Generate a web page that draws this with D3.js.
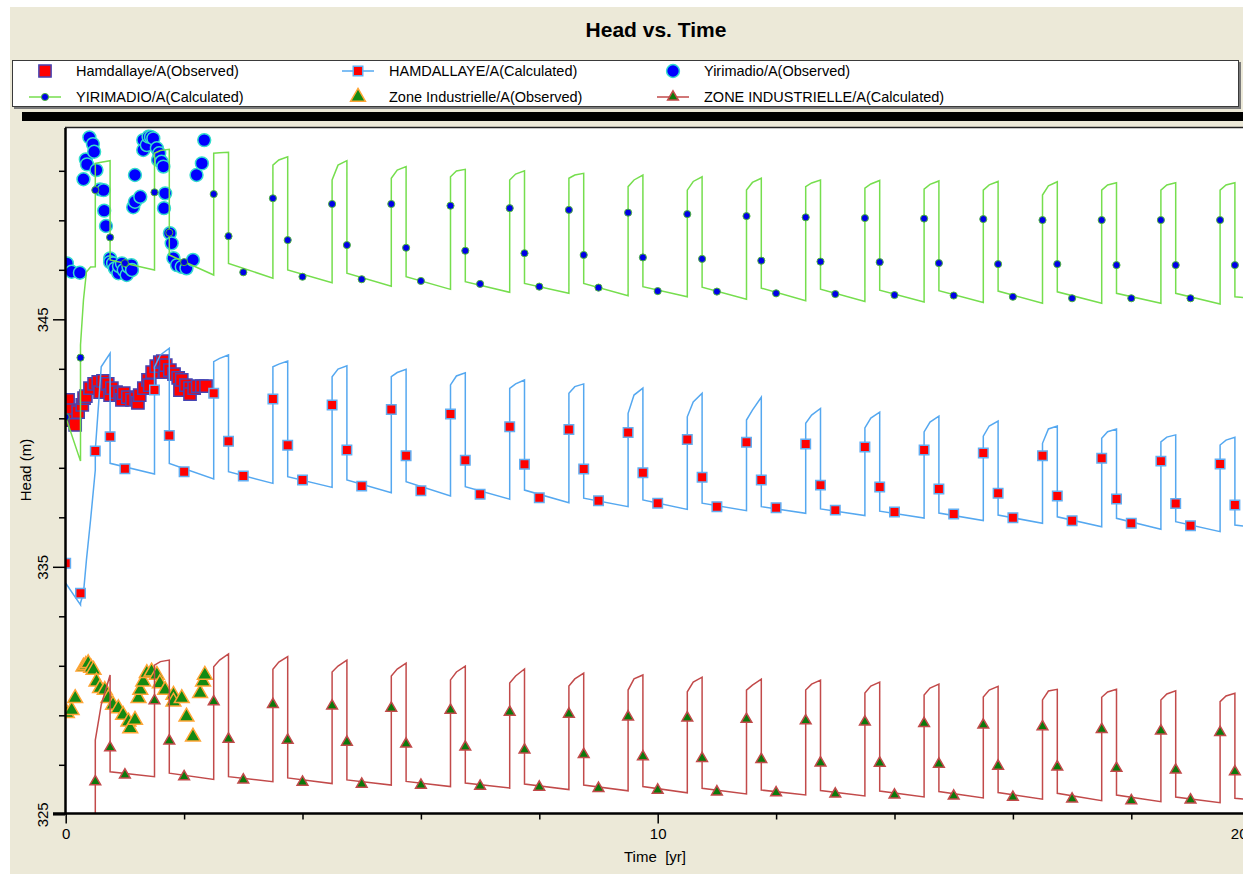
<!DOCTYPE html>
<html>
<head>
<meta charset="utf-8">
<script src="https://cdn.jsdelivr.net/npm/d3@7"></script>
<style>
body { margin:0; background:#fff; }
text { font-family:"Liberation Sans", Arial, sans-serif; }
</style>
</head>
<body>
<div id="chart"></div>
<script>
// ---- data (time in years, head in m) ----
var calcTime = [0,0.25,0.25,0.3,0.35,0.42,0.5,0.5,0.6,0.75,0.75,
  1.5,1.5,1.6,1.75,1.75, 2.5,2.5,2.6,2.75,2.75, 3.5,3.5,3.6,3.75,3.75,
  4.5,4.5,4.6,4.75,4.75, 5.5,5.5,5.6,5.75,5.75, 6.5,6.5,6.6,6.75,6.75,
  7.5,7.5,7.6,7.75,7.75, 8.5,8.5,8.6,8.75,8.75, 9.5,9.5,9.6,9.75,9.75,
  10.5,10.5,10.6,10.75,10.75, 11.5,11.5,11.6,11.75,11.75, 12.5,12.5,12.6,12.75,12.75,
  13.5,13.5,13.6,13.75,13.75, 14.5,14.5,14.6,14.75,14.75, 15.5,15.5,15.6,15.75,15.75,
  16.5,16.5,16.6,16.75,16.75, 17.5,17.5,17.6,17.75,17.75, 18.5,18.5,18.6,18.75,18.75,
  19.5,19.5,19.6,19.75,19.75, 19.9]

var hamCalc = [334.34,333.46,333.54,333.94,335.27,336.89,338.91,339.72,343.08,343.63,339.18,
  338.75,343.08,343.56,343.83,339.18, 338.55,343.29,343.42,343.56,338.84, 338.37,343.08,343.19,343.31,338.64,
  338.21,342.68,342.99,343.12,338.51, 337.99,342.68,342.85,342.98,338.44, 337.86,342.35,342.71,342.84,338.24,
  337.73,342.21,342.39,342.55,338.10, 337.59,342.01,342.28,342.39,337.77, 337.43,341.20,341.94,342.22,337.70,
  337.32,341.06,341.66,342.01,337.57, 337.27,340.93,341.33,341.85,337.43, 337.16,340.80,341.13,341.40,337.34,
  337.07,340.61,341.01,341.25,337.25, 336.97,340.45,340.85,341.09,337.17, 336.87,340.28,340.69,340.89,337.09,
  336.76,339.99,340.57,340.69,337.02, 336.62,340.19,340.46,340.57,336.96, 336.52,340.05,340.24,340.33,336.82,
  336.42,339.92,340.12,340.23,336.69, 336.65]

var yirCalc = [341.05,339.27,343.96,345.78,346.91,347.11,347.12,351.30,351.35,351.41,347.40,
  346.99,351.71,351.82,351.87,347.60, 346.79,351.71,351.73,351.75,347.26, 346.66,351.23,351.44,351.57,346.99,
  346.48,350.63,351.23,351.41,346.86, 346.34,350.70,351.03,351.17,346.72, 346.21,350.76,350.99,351.06,346.52,
  346.09,350.63,350.87,351.00,346.45, 346.05,350.70,350.83,350.90,346.45, 345.95,350.36,350.63,350.83,346.32,
  345.91,350.22,350.57,350.76,346.30, 345.81,350.22,350.53,350.70,346.26, 345.75,350.36,350.51,350.63,346.22,
  345.72,350.30,350.47,350.61,346.18, 345.70,350.26,350.45,350.59,346.16, 345.68,350.22,350.43,350.57,346.14,
  345.65,350.02,350.39,350.56,346.11, 345.65,350.22,350.43,350.52,346.05, 345.65,350.22,350.43,350.52,346.05,
  345.62,350.22,350.43,350.52,345.91, 345.88]

var zoneCalc = [323.56,323.56,323.56,323.56,323.56,323.56,323.56,328.00,329.42,330.63,326.72,
  326.52,331.03,331.17,331.23,326.66, 326.41,330.96,331.23,331.48,326.52, 326.32,330.86,331.15,331.37,326.47,
  326.24,330.75,330.99,331.23,326.39, 326.18,330.59,330.87,331.11,326.33, 326.12,330.43,330.75,330.99,326.26,
  326.06,330.30,330.59,330.87,326.22, 326.00,330.18,330.47,330.70,326.18, 325.95,330.02,330.47,330.63,326.12,
  325.87,329.95,330.34,330.54,326.05, 325.82,330.02,330.22,330.46,325.98, 325.78,330.02,330.26,330.42,325.96,
  325.74,329.90,330.18,330.34,325.94, 325.70,329.82,330.10,330.26,325.92, 325.66,329.74,330.02,330.17,325.88,
  325.61,329.62,329.98,330.05,325.85, 325.55,329.73,329.94,330.05,325.78, 325.51,329.62,329.86,329.99,325.70,
  325.47,329.55,329.78,329.89,325.65, 325.62]

// output times where the calculated markers are drawn
var markTime = [0,0.25,0.5,0.75, 1,1.5,1.75, 2,2.5,2.75, 3,3.5,3.75, 4,4.5,4.75, 5,5.5,5.75,
  6,6.5,6.75, 7,7.5,7.75, 8,8.5,8.75, 9,9.5,9.75, 10,10.5,10.75, 11,11.5,11.75, 12,12.5,12.75,
  13,13.5,13.75, 14,14.5,14.75, 15,15.5,15.75, 16,16.5,16.75, 17,17.5,17.75, 18,18.5,18.75, 19,19.5,19.75]

var hamMark = [335.14,333.93,339.68,340.26, 338.96,342.14,340.31, 338.84,342.01,340.07, 338.67,341.78,339.91,
  338.51,341.54,339.72, 338.26,341.36,339.49, 338.07,341.17,339.31, 337.93,340.66,339.14, 337.79,340.55,338.95,
  337.67,340.43,338.80, 337.57,340.14,338.62, 337.43,340.03,338.51, 337.39,339.96,338.30, 337.29,339.84,338.22,
  337.21,339.72,338.14, 337.13,339.60,337.97, 336.98,339.49,337.86, 336.86,339.39,337.74, 336.76,339.27,337.56,
  336.66,339.15,337.50]

var yirMark = [341.05,343.45,350.22,348.31, 347.27,350.13,348.50, 347.31,350.06,348.36, 346.90,349.89,348.20,
  346.72,349.66,348.00, 346.62,349.66,347.89, 346.55,349.59,347.77, 346.43,349.49,347.67, 346.32,349.42,347.60,
  346.28,349.31,347.50, 346.14,349.25,347.44, 346.12,349.17,347.37, 346.05,349.12,347.33, 346.02,349.09,347.31,
  345.98,349.07,347.27, 345.96,349.05,347.23, 345.91,349.01,347.23, 345.85,349.01,347.19, 345.85,349.01,347.19,
  345.85,349.01,347.19]

var zoneMark = [323.6,323.6,326.32,327.69, 326.59,329.59,327.97, 326.52,329.55,328.04, 326.39,329.44,328.00,
  326.30,329.38,327.92, 326.22,329.29,327.84, 326.18,329.21,327.72, 326.14,329.13,327.60, 326.10,329.05,327.42,
  326.05,328.94,327.33, 325.98,328.90,327.26, 325.91,328.84,327.22, 325.87,328.78,327.08, 325.82,328.73,327.07,
  325.78,328.67,327.03, 325.74,328.61,326.95, 325.69,328.54,326.92, 325.62,328.43,326.86, 325.55,328.37,326.79,
  325.58,328.31,326.72]

// observed heads (first years only)
var hamObsTime = [0.04,0.07,0.11,0.16,0.21,0.28,0.31,0.34,0.41,0.48,0.55,0.58,0.63,0.71,0.75,0.78,0.85,0.92,0.95,0.98,
  1.05,1.12,1.19,1.22,1.25,1.32,1.39,1.42,1.46,1.53,1.59,1.64,1.68,1.69,1.76,1.83,1.90,1.93,1.96,2.03,
  2.10,2.10,2.17,2.23,2.30,2.37]
var hamObs = [341.74,341.33,340.93,340.73,341.25,341.54,341.82,341.90,342.22,342.39,342.47,342.06,342.51,342.39,341.94,342.22,342.06,341.98,341.74,342.02,
  341.86,341.74,341.82,341.62,341.94,342.22,342.55,342.34,342.87,343.11,343.27,343.31,342.87,343.15,342.95,342.79,342.63,342.14,342.55,342.34,
  342.22,341.98,342.22,342.30,342.30,342.30]

var yirObsTime = [0.02,0.10,0.24,0.30,0.34,0.36,0.40,0.46,0.48,0.52,0.58,0.64,0.65,0.68,0.75,0.75,0.80,0.83,0.89,0.90,
  0.95,0.98,1.03,1.06,1.11,1.12,1.14,1.17,1.17,1.26,1.31,1.31,1.37,1.40,1.44,1.48,1.54,1.56,1.58,1.62,
  1.65,1.66,1.68,1.76,1.79,1.82,1.88,1.96,2.04,2.15,2.21,2.30,2.34]
var yirObs = [347.26,346.92,346.88,350.66,351.46,351.26,352.35,352.08,351.77,351.03,350.25,350.22,349.39,348.77,347.46,347.31,347.26,347.06,346.86,347.15,
  347.26,346.99,346.79,347.12,347.19,346.99,349.53,350.83,349.75,349.95,352.24,351.84,352.04,352.38,352.37,352.31,351.91,351.44,351.71,351.37,
  351.17,349.49,350.09,348.48,348.07,347.47,347.19,347.12,347.06,347.40,350.83,351.30,352.24]

var zoneObsTime = [0.02,0.10,0.16,0.30,0.34,0.38,0.43,0.47,0.52,0.58,0.66,0.72,0.80,0.89,0.97,1.06,1.09,1.17,1.23,1.26,
  1.31,1.37,1.45,1.54,1.59,1.68,1.82,1.82,1.96,2.04,2.15,2.27,2.32,2.35]
var zoneObs = [329.08,329.21,329.69,330.96,331.03,331.10,330.91,330.83,330.36,330.09,330.02,329.69,329.42,329.28,329.01,328.74,328.47,328.81,329.69,330.02,
  330.36,330.70,330.76,330.63,330.29,330.02,329.82,329.55,329.69,328.94,328.13,329.89,330.36,330.63]

var yMajor = [325,335,345]
var yMinor = [327,329,331,333,337,339,341,343,347,349,351]
var xMajor = [0,10,20]
var xMinor = [2,4,6,8,12,14,16,18]

var legendNames = ["Hamdallaye/A(Observed)","HAMDALLAYE/A(Calculated)","Yirimadio/A(Observed)",
  "YIRIMADIO/A(Calculated)","Zone Industrielle/A(Observed)","ZONE INDUSTRIELLE/A(Calculated)"]

// ---- drawing ----
var W = 1243, H = 878
var svg = d3.select('#chart').append('svg').attr('width', W).attr('height', H)

svg.append('rect').attr('x', 10).attr('y', 7).attr('width', W - 10).attr('height', 867).attr('fill', '#ECE9D8')

svg.append('text').attr('x', 656).attr('y', 37).attr('text-anchor', 'middle')
  .attr('font-size', 21).attr('font-weight', 'bold').text('Head vs. Time')

var x = d3.scaleLinear().domain([0, 20]).range([65.7, 1249.7])
var y = d3.scaleLinear().domain([325, 352.75]).range([814.3, 127.5])

// marker + line styles
var st = {
  hamObs:  {type: d3.symbolSquare,   size: 150, fill: '#FF0000', stroke: '#4646B4', sw: 1.5},
  hamCalc: {type: d3.symbolSquare,   size: 90,  fill: '#FF0000', stroke: '#62AEF2', sw: 1.5, line: '#55A8F0'},
  yirObs:  {type: d3.symbolCircle,   size: 130, fill: '#0000FF', stroke: '#33DDCC', sw: 1.5},
  yirCalc: {type: d3.symbolCircle,   size: 40,  fill: '#0000E6', stroke: '#4FB83A', sw: 1, line: '#76DE4E'},
  zoneObs: {type: d3.symbolTriangle, size: 95,  fill: '#138A13', stroke: '#FFA535', sw: 1.5},
  zoneCalc:{type: d3.symbolTriangle, size: 50,  fill: '#0B7A0B', stroke: '#C24A4A', sw: 1.5, line: '#C24A4A'}
}

// legend
svg.append('rect').attr('x', 14).attr('y', 62).attr('width', 1227).attr('height', 47).attr('fill', '#7a7a7a')
svg.append('rect').attr('x', 12.5).attr('y', 60.5).attr('width', 1226).attr('height', 46)
  .attr('fill', '#fff').attr('stroke', '#3a3a3a').attr('stroke-width', 1)

var legKeys = ['hamObs','hamCalc','yirObs','yirCalc','zoneObs','zoneCalc']
var legCol = [45, 358, 673]
var legRow = [71, 97]
legKeys.forEach(function(k, i){
  var cx = legCol[i % 3], cy = legRow[Math.floor(i / 3)]
  var s = st[k]
  if (s.line) {
    svg.append('line').attr('x1', cx - 16).attr('x2', cx + 16).attr('y1', cy).attr('y2', cy)
      .attr('stroke', s.line).attr('stroke-width', 1.5)
  }
  svg.append('path').attr('transform', 'translate(' + cx + ',' + cy + ')')
    .attr('d', d3.symbol(s.type, s.size)).attr('fill', s.fill).attr('stroke', s.stroke).attr('stroke-width', s.sw)
  svg.append('text').attr('x', cx + 31).attr('y', cy + 5).attr('font-size', 14.5).text(legendNames[i])
})

// thick black bar under the legend
svg.append('rect').attr('x', 22).attr('y', 112).attr('width', W - 22).attr('height', 9).attr('fill', '#000')

// plot area
svg.append('rect').attr('x', 65).attr('y', 127).attr('width', W - 65).attr('height', 814 - 127).attr('fill', '#fff')
svg.append('line').attr('x1', 65).attr('x2', W).attr('y1', 127.5).attr('y2', 127.5).attr('stroke', '#222').attr('stroke-width', 1.5)

svg.append('defs').append('clipPath').attr('id', 'plotclip')
  .append('rect').attr('x', 66).attr('y', 127).attr('width', W - 66).attr('height', 814 - 127)
var plot = svg.append('g').attr('clip-path', 'url(#plotclip)')

var line = d3.line().x(function(d){ return x(d[0]) }).y(function(d){ return y(d[1]) })

function markers(ts, vs, s){
  plot.append('g').selectAll('path').data(d3.zip(ts, vs)).join('path')
    .attr('transform', function(d){ return 'translate(' + x(d[0]) + ',' + y(d[1]) + ')' })
    .attr('d', d3.symbol(s.type, s.size))
    .attr('fill', s.fill).attr('stroke', s.stroke).attr('stroke-width', s.sw)
}
function calcLine(vs, s){
  plot.append('path').datum(d3.zip(calcTime, vs)).attr('d', line)
    .attr('fill', 'none').attr('stroke', s.line).attr('stroke-width', 1.5)
}

markers(hamObsTime, hamObs, st.hamObs)
calcLine(hamCalc, st.hamCalc)
markers(markTime, hamMark, st.hamCalc)
markers(yirObsTime, yirObs, st.yirObs)
calcLine(yirCalc, st.yirCalc)
markers(markTime, yirMark, st.yirCalc)
markers(zoneObsTime, zoneObs, st.zoneObs)
calcLine(zoneCalc, st.zoneCalc)
markers(markTime, zoneMark, st.zoneCalc)

// y axis
var gy = svg.append('g').attr('transform', 'translate(65,0)')
  .call(d3.axisLeft(y).tickValues(yMajor).tickSize(12).tickSizeOuter(0).tickFormat(d3.format('d')))
gy.select('.domain').attr('stroke-width', 2.5)
gy.selectAll('.tick line').attr('stroke-width', 1.5)
gy.selectAll('.tick text').attr('transform', 'rotate(-90)').attr('x', 0).attr('y', -17).attr('dy', 0)
  .attr('text-anchor', 'middle').attr('font-size', 15).attr('font-family', '"Liberation Sans", Arial, sans-serif').attr('fill', '#000')
var gy2 = svg.append('g').attr('transform', 'translate(65,0)')
  .call(d3.axisLeft(y).tickValues(yMinor).tickSize(6).tickFormat(''))
gy2.select('.domain').remove()
gy2.selectAll('.tick line').attr('stroke-width', 1.5)

// x axis
var gx = svg.append('g').attr('transform', 'translate(0,813.5)')
  .call(d3.axisBottom(x).tickValues(xMajor).tickSize(10).tickSizeOuter(0).tickPadding(5).tickFormat(d3.format('d')))
gx.select('.domain').attr('stroke-width', 2.5).attr('d', 'M53,0H' + W)
gx.selectAll('.tick line').attr('stroke-width', 1.5)
gx.selectAll('.tick text').attr('font-size', 15).attr('font-family', '"Liberation Sans", Arial, sans-serif').attr('fill', '#000')
gx.selectAll('.tick text').filter(function(d){ return d == 20 }).attr('dx', -11)
var gx2 = svg.append('g').attr('transform', 'translate(0,813.5)')
  .call(d3.axisBottom(x).tickValues(xMinor).tickSize(6).tickFormat(''))
gx2.select('.domain').remove()
gx2.selectAll('.tick line').attr('stroke-width', 1.5)

// axis titles
svg.append('text').attr('x', 655).attr('y', 862).attr('text-anchor', 'middle').attr('font-size', 15)
  .style('white-space', 'pre').text('Time  [yr]')
svg.append('text').attr('transform', 'translate(31,470) rotate(-90)').attr('text-anchor', 'middle')
  .attr('font-size', 15).text('Head (m)')
</script>
</body>
</html>
